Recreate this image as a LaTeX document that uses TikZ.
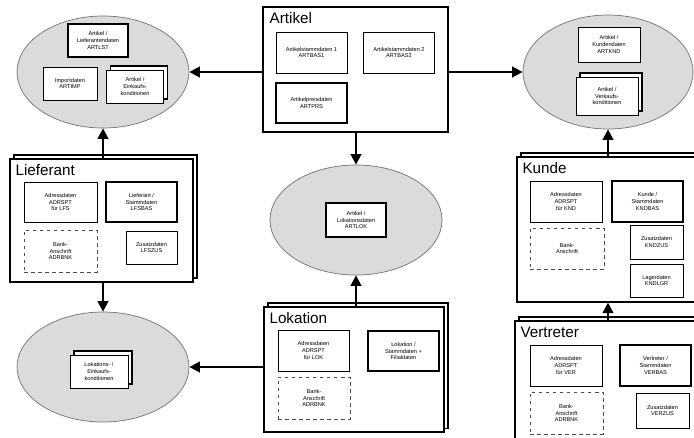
\documentclass[tikz,border=0pt]{standalone}
\usepackage{fontspec}
\setmainfont{Liberation Sans}
\usetikzlibrary{shapes.geometric,shadows,arrows.meta}

\tikzset{
  ell/.style={ellipse, draw=black!55, fill=black!14, line width=0.6pt, inner sep=0pt},
  grp/.style={draw, fill=white, line width=0.9pt, inner sep=0pt},
  stk/.style={copy shadow={shadow xshift=3.4pt, shadow yshift=3.4pt, fill=white, draw=black, line width=0.9pt}},
  fbox/.style={draw, fill=white, line width=0.6pt, align=center, inner sep=1pt,
    minimum width=2.13cm, minimum height=1.23cm, font=\fontsize{4.8}{5.8}\selectfont},
  fboxthick/.style={fbox, line width=1.3pt},
  bankbox/.style={fbox, dashed, draw=black!70},
  titl/.style={anchor=north west, inner sep=0pt, font=\fontsize{13}{15}\selectfont},
  conn/.style={line width=2pt, -{Triangle[length=9pt,width=9pt]}}
}

\begin{document}
\begin{tikzpicture}[x=0.03cm,y=-0.03cm]
  \clip (0,0) rectangle (694,437);
  \fill[white] (0,0) rectangle (694,437);

  % ellipses
  \node[ell, minimum width=5.16cm, minimum height=3.36cm] (el1) at (103,72) {};
  \node[fboxthick, minimum width=1.8cm, minimum height=0.99cm] (artlst) at (98,40.5) {Artikel /\\Lieferantendaten\\ARTLST};
  \node[fbox, minimum width=1.62cm, minimum height=0.99cm] (artimp) at (70,83.5) {Importdaten\\ARTIMP};
  \node[fbox, stk, minimum width=1.71cm, minimum height=0.99cm] (artekk) at (135,86.5) {Artikel /\\Einkaufs-\\konditionen};

  \node[ell, minimum width=5.1cm, minimum height=3.42cm] (er1) at (608,72) {};
  \node[fbox, minimum width=1.86cm, minimum height=1.05cm] (artknd) at (609,44.5) {Artikel /\\Kundendaten\\ARTKND};
  \node[fbox, stk, minimum width=1.86cm, minimum height=1.14cm] (artvkk) at (607,96) {Artikel /\\Verkaufs-\\konditionen};

  \node[ell, minimum width=5.16cm, minimum height=3.3cm] (em) at (356,220) {};
  \node[fboxthick, minimum width=1.8cm, minimum height=1.02cm] (artlok) at (356,220) {Artikel /\\Lokationsdaten\\ARTLOK};

  \node[ell, minimum width=5.16cm, minimum height=3.3cm] (el2) at (103,367) {};
  \node[fbox, stk, minimum width=1.74cm, minimum height=0.99cm] (lokekk) at (99,371.5) {Lokations- /\\Einkaufs-\\konditionen};

  % Artikel
  \node[grp, minimum width=5.55cm, minimum height=3.75cm] (art) at (355.5,69.5) {};
  \node[titl] at ([shift={(6pt,-5pt)}]art.north west) {Artikel};
  \node[fbox] (bas1) at (311.5,52.5) {Artikelstammdaten 1\\ARTBAS1};
  \node[fbox] (bas2) at (399,52.5) {Artikelstammdaten 2\\ARTBAS2};
  \node[fboxthick, minimum height=1.2cm] (prs) at (311.5,103) {Artikelpreisdaten\\ARTPRS};

  % Lieferant
  \node[grp, stk, minimum width=5.49cm, minimum height=3.69cm] (lief) at (101.5,220.5) {};
  \node[titl] at ([shift={(5pt,-5pt)}]lief.north west) {Lieferant};
  \node[fbox, minimum width=2.19cm, minimum height=1.2cm] (lfsadr) at (60.5,202) {Adressdaten\\ADRSPT\\für LFS};
  \node[fboxthick, minimum height=1.2cm] (lfsbas) at (141.5,202) {Lieferant /\\Stammdaten\\LFSBAS};
  \node[bankbox, minimum width=2.19cm, minimum height=1.26cm] (lfsbnk) at (60.5,251) {Bank-\\Anschrift\\ADRBNK};
  \node[fbox, minimum width=1.53cm, minimum height=0.99cm] (lfszus) at (151.5,247.5) {Zusatzdaten\\LFSZUS};

  % Lokation
  \node[grp, stk, minimum width=5.4cm, minimum height=3.75cm] (lok) at (354,369.5) {};
  \node[titl] at ([shift={(5pt,-5pt)}]lok.north west) {Lokation};
  \node[fbox] (lokadr) at (313.5,350.5) {Adressdaten\\ADRSPT\\für LOK};
  \node[fboxthick, minimum height=1.2cm] (lokbas) at (403.5,351) {Lokation /\\Stammdaten +\\Filialdaten};
  \node[bankbox, minimum width=2.16cm, minimum height=1.26cm] (lokbnk) at (314,398) {Bank-\\Anschrift\\ADRBNK};

  % Kunde
  \node[grp, stk, minimum width=5.64cm, minimum height=4.35cm] (kunde) at (611,229.5) {};
  \node[titl] at ([shift={(5pt,-5pt)}]kunde.north west) {Kunde};
  \node[fbox, minimum width=2.16cm] (kndadr) at (566,201.5) {Adressdaten\\ADRSPT\\für KND};
  \node[fboxthick] (kndbas) at (647.5,201.5) {Kunde /\\Stammdaten\\KNDBAS};
  \node[bankbox, minimum width=2.22cm] (kndbnk) at (567,248.5) {Bank-\\Anschrift};
  \node[fbox, minimum width=1.59cm, minimum height=1.02cm] (kndzus) at (656.5,242) {Zusatzdaten\\KNDZUS};
  \node[fbox, minimum width=1.59cm, minimum height=0.99cm] (kndlgr) at (656.5,280.5) {Lagerdaten\\KNDLGR};

  % Vertreter
  \node[grp, stk, minimum width=5.7cm, minimum height=3.72cm] (vert) at (610,383) {};
  \node[titl] at ([shift={(5pt,-5pt)}]vert.north west) {Vertreter};
  \node[fbox, minimum width=2.16cm] (veradr) at (566,365.5) {Adressdaten\\ADRSPT\\für VER};
  \node[fboxthick] (verbas) at (655.5,365.5) {Vertreter /\\Stammdaten\\VERBAS};
  \node[bankbox, minimum width=2.19cm, minimum height=1.26cm] (verbnk) at (566.5,413) {Bank-\\Anschrift\\ADRBNK};
  \node[fbox, minimum width=1.59cm, minimum height=1.05cm] (verzus) at (662.5,410.5) {Zusatzdaten\\VERZUS};

  % connectors
  \draw[conn] (el1.east -| art.west) -- (el1.east);
  \draw[conn] (er1.west -| art.east) -- (er1.west);
  \draw[conn] (em.north |- art.south) -- (em.north);
  \draw[conn] (el1.south |- lief.north) -- (el1.south);
  \draw[conn] (el2.north |- lief.south) -- (el2.north);
  \draw[conn] (el2.east -| lok.west) -- (el2.east);
  \draw[conn] (em.south |- lok.north) -- (em.south);
  \draw[conn] (er1.south |- kunde.north) -- (er1.south);
  \draw[conn] (er1.south |- vert.north) -- (er1.south |- kunde.south);
\end{tikzpicture}
\end{document}
